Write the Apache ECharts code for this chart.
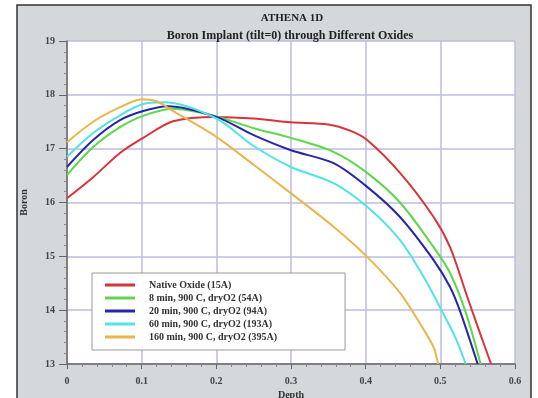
<!DOCTYPE html>
<html>
<head>
<meta charset="utf-8">
<script src="https://cdn.jsdelivr.net/npm/echarts@6/dist/echarts.min.js"></script>
<style>
  html, body { margin: 0; padding: 0; background: #fff; }
  #main { width: 538px; height: 398px; }
</style>
</head>
<body>
<div id="main"></div>
<script>
// depth (um) vs log10 boron concentration
var seriesNames = [
  'Native Oxide (15A)',
  '8 min, 900 C, dryO2 (54A)',
  '20 min, 900 C, dryO2 (94A)',
  '60 min, 900 C, dryO2 (193A)',
  '160 min, 900 C, dryO2 (395A)'
];
var colors = ['#d8343c', '#5cd84a', '#2626a8', '#50e4e4', '#e8b64c'];

var nativeOxide = [[0,16.08],[0.035,16.47],[0.071,16.92],[0.102,17.2],[0.142,17.51],[0.2,17.59],
  [0.25,17.56],[0.3,17.49],[0.35,17.45],[0.38,17.33],[0.402,17.16],[0.446,16.55],[0.491,15.73],
  [0.513,15.17],[0.536,14.25],[0.555,13.5],[0.568,13.0]];
var dry8 = [[0,16.51],[0.035,17.03],[0.071,17.4],[0.102,17.61],[0.142,17.74],[0.2,17.6],
  [0.25,17.38],[0.3,17.2],[0.357,16.94],[0.402,16.55],[0.446,16.0],[0.491,15.17],
  [0.513,14.69],[0.534,13.96],[0.554,13.0]];
var dry20 = [[0,16.66],[0.035,17.16],[0.071,17.53],[0.102,17.7],[0.135,17.79],
  [0.2,17.59],[0.25,17.25],[0.3,16.97],[0.357,16.73],[0.402,16.29],[0.446,15.73],[0.491,14.93],
  [0.513,14.43],[0.527,13.96],[0.55,13.0]];
var dry60 = [[0,16.85],[0.035,17.29],[0.071,17.62],[0.102,17.83],[0.13,17.86],
  [0.2,17.56],[0.25,17.05],[0.3,16.66],[0.357,16.36],[0.402,15.92],[0.446,15.3],[0.48,14.56],
  [0.503,13.96],[0.52,13.5],[0.534,13.0]];
var dry160 = [[0,17.12],[0.035,17.5],[0.071,17.77],[0.1,17.92],[0.12,17.88],[0.142,17.7],
  [0.2,17.22],[0.25,16.7],[0.3,16.17],[0.357,15.55],[0.402,14.99],[0.446,14.32],[0.475,13.7],
  [0.491,13.31],[0.497,13.0]];

var allData = [nativeOxide, dry8, dry20, dry60, dry160];

var myChart = echarts.init(document.getElementById('main'));
var serif = 'Liberation Serif';

var option = {
  backgroundColor: '#fff',
  animation: false,
  graphic: [{
    type: 'rect', z: -10,
    shape: { x: 17, y: 5, width: 514, height: 420 },
    style: { fill: '#d4d8db', stroke: '#333', lineWidth: 1.5 }
  }],
  title: [
    { text: 'ATHENA 1D', left: 287, top: 8, textAlign: 'center',
      textStyle: { fontFamily: serif, fontSize: 11, fontWeight: 'bold', color: '#222' } },
    { text: 'Boron Implant (tilt=0) through Different Oxides', left: 285, top: 25, textAlign: 'center',
      textStyle: { fontFamily: serif, fontSize: 12, fontWeight: 'bold', color: '#222' } }
  ],
  legend: {
    orient: 'vertical', left: 92, top: 273, icon: 'rect',
    padding: [7, 68, 8, 13], itemGap: 3, itemWidth: 30, itemHeight: 3,
    backgroundColor: '#fff', borderColor: '#999', borderWidth: 1,
    textStyle: { fontFamily: serif, fontSize: 10, fontWeight: 'bold', color: '#333',
      lineHeight: 10, padding: [0, 0, 0, 9] },
    data: seriesNames
  },
  grid: { left: 67, right: 23, top: 41, bottom: 34, outerBoundsMode: 'none',
    show: true, backgroundColor: '#fff', borderWidth: 0 },
  xAxis: {
    type: 'value', min: 0, max: 0.6, interval: 0.1,
    name: 'Depth', nameLocation: 'middle', nameGap: 25,
    nameTextStyle: { fontFamily: serif, fontSize: 10, fontWeight: 'bold', color: '#333' },
    axisLine: { show: true, lineStyle: { color: '#666', width: 1.5 } },
    axisTick: { show: true, length: 5, lineStyle: { color: '#666' } },
    minorTick: { show: true, splitNumber: 5, length: 3, lineStyle: { color: '#888' } },
    axisLabel: { margin: 12, fontFamily: serif, fontSize: 10, fontWeight: 'bold', color: '#444',
      formatter: function (v) { return v === 0 ? '0' : v.toFixed(1); } },
    splitLine: { show: true, lineStyle: { color: '#bcbce0', width: 1.5 } }
  },
  yAxis: {
    type: 'value', min: 13, max: 19, interval: 1,
    name: 'Boron', nameLocation: 'middle', nameGap: 38, nameRotate: 90,
    nameTextStyle: { fontFamily: serif, fontSize: 10, fontWeight: 'bold', color: '#333' },
    axisLine: { show: true, lineStyle: { color: '#666', width: 1.5 } },
    axisTick: { show: true, length: 8, lineStyle: { color: '#666' } },
    minorTick: { show: true, splitNumber: 5, length: 3, lineStyle: { color: '#888' } },
    axisLabel: { margin: 12, fontFamily: serif, fontSize: 10, fontWeight: 'bold', color: '#444' },
    splitLine: { show: true, lineStyle: { color: '#bcbce0', width: 1.5 } }
  },
  series: allData.map(function (d, i) {
    return {
      name: seriesNames[i], type: 'line', data: d, smooth: 0.3,
      symbol: 'none', clip: true,
      lineStyle: { color: colors[i], width: 2 },
      itemStyle: { color: colors[i] }
    };
  })
};

myChart.setOption(option);
window.onresize = myChart.resize;
</script>
</body>
</html>
